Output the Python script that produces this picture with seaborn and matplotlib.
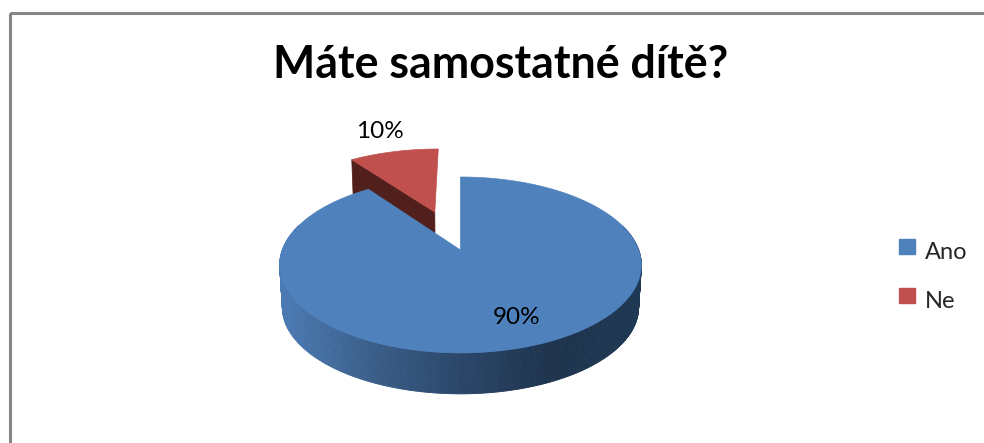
import numpy as np
import seaborn as sns
import matplotlib.pyplot as plt
from matplotlib.legend_handler import HandlerPatch
from matplotlib.patches import Patch, Rectangle

title = 'Máte samostatné dítě?'
categories = ['Ano', 'Ne']
shares = [90, 10]

sns.set_theme(style='white')
plt.rcParams['font.family'] = ['Lato', 'DejaVu Sans']

colors = sns.color_palette(['#4F81BD', '#C0504D'])
side_colors = sns.blend_palette(['#4C7BB4', '#3A5E89', '#2A4669', '#1E334D', '#1F3854'], n_colors=120)
red_side = '#511F1C'

# perspective of the pie disc, all in pixels of the picture
cx, cy = 460.5, 250
k = 0.17
a = 178.2
b = 85.4
depth = 42.5
shrink = 0.985
explode = 0.505


def project(u, v, down=False):
    w = 1 + k * v
    x = a * u / w
    y = b * v / w
    if down:
        x = x * shrink
        y = y * shrink - depth
    return cx + x, cy - y


def wedge(start, end, off=(0, 0), down=False):
    t = np.radians(np.linspace(start, end, 200))
    u = np.r_[off[0], off[0] + np.sin(t)]
    v = np.r_[off[1], off[1] + np.cos(t)]
    return project(u, v, down)


def raised_swatch(legend, orig_handle, xdescent, ydescent, width, height, fontsize):
    # swatches sit a bit higher than the legend text
    return Rectangle((-xdescent, -ydescent + 2.9), width, height)


fig, ax = plt.subplots(figsize=(9.84, 4.43), dpi=100)
ax.set_position([0, 0, 1, 1])
ax.set_xlim(0, 984)
ax.set_ylim(443, 0)
ax.axis('off')

ax.add_patch(Rectangle((10, 13), 990, 450, fill=False, ec='#868686', lw=2.2))

end_blue = 360 * shares[0] / sum(shares)
mid_red = np.radians((end_blue + 360) / 2)
off = (explode * np.sin(mid_red), explode * np.cos(mid_red))

# exploded slice, its cut face goes behind the big slice
t0 = np.radians(end_blue)
fx, fy = project(np.array([off[0], off[0] + np.sin(t0)]), np.array([off[1], off[1] + np.cos(t0)]))
gx, gy = project(np.array([off[0], off[0] + np.sin(t0)]), np.array([off[1], off[1] + np.cos(t0)]), True)
ax.fill(np.r_[fx, gx[::-1]], np.r_[fy, gy[::-1]], color=red_side, lw=0.5)
x, y = wedge(end_blue, 360, off)
ax.fill(x, y, color=colors[1], lw=0.5)

# side wall of the big slice with its gradient
angles = np.radians(np.linspace(0, end_blue, 500))
for t1, t2 in zip(angles[:-1], angles[1:]):
    u = np.sin([t1, t2])
    v = np.cos([t1, t2])
    x1, y1 = project(u, v)
    x2, y2 = project(u, v, True)
    if v.mean() > 0.3:
        continue
    pos = (x1.mean() - (cx - 181)) / 362
    c = side_colors[int(np.clip(pos, 0, 0.999) * len(side_colors))]
    ax.fill(np.r_[x1, x2[::-1]], np.r_[y1, y2[::-1]], color=c, lw=0.6)

x, y = wedge(0, end_blue)
ax.fill(x, y, color=colors[0], lw=0.5)

ax.text(517, 318, f'{shares[0]}%', ha='center', va='center', fontsize=17.5, color='black')
ax.text(380, 132, f'{shares[1]}%', ha='center', va='center', fontsize=17.5, color='black')
ax.text(501, 65, title, ha='center', va='center', fontsize=32.2, fontweight='bold', color='black')

handles = [Patch(color=c) for c in colors]
ax.legend(handles, categories, loc='center left', bbox_to_anchor=(899 / 984, 1 - 277 / 443),
          frameon=False, fontsize=17, handlelength=0.68, handleheight=0.6,
          handletextpad=0.42, labelspacing=1.2, borderpad=0, borderaxespad=0,
          handler_map={Patch: HandlerPatch(patch_func=raised_swatch)})

fig.savefig('out.png', dpi=100)
